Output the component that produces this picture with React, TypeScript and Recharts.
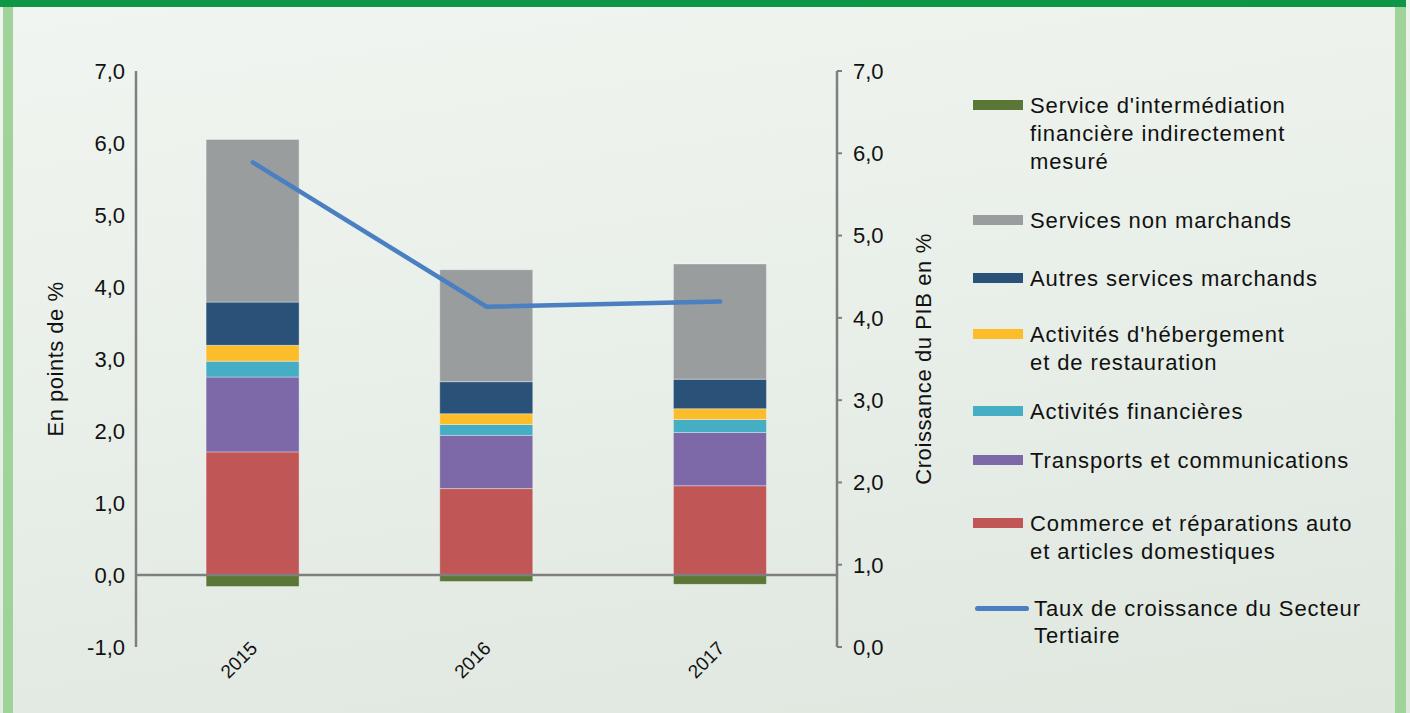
import { ComposedChart, Bar, Line, XAxis, YAxis, ReferenceLine } from 'recharts';

const years = ['2015', '2016', '2017'];
const sifim = [-0.16, -0.09, -0.13];
const nonMarchands = [2.26, 1.555, 1.6];
const autresMarchands = [0.6, 0.445, 0.41];
const hebergement = [0.22, 0.15, 0.15];
const financieres = [0.22, 0.15, 0.18];
const transports = [1.04, 0.74, 0.74];
const commerce = [1.71, 1.2, 1.24];
const tauxTertiaire = [5.89, 4.135, 4.2];

const leftTicks = [-1, 0, 1, 2, 3, 4, 5, 6, 7];
const rightTicks = [0, 1, 2, 3, 4, 5, 6, 7];

// bottom to top of the stack
const barSeries = [
  { key: 'sifim', name: "Service d'intermédiation\nfinancière indirectement\nmesuré", color: '#5b7736', values: sifim },
  { key: 'commerce', name: 'Commerce et réparations auto\net articles domestiques', color: '#c05756', values: commerce },
  { key: 'transports', name: 'Transports et communications', color: '#7d69a8', values: transports },
  { key: 'financieres', name: 'Activités financières', color: '#45adc4', values: financieres },
  { key: 'hebergement', name: "Activités d'hébergement\net de restauration", color: '#fdbc2a', values: hebergement },
  { key: 'autres', name: 'Autres services marchands', color: '#2a5178', values: autresMarchands },
  { key: 'nonMarchands', name: 'Services non marchands', color: '#9a9d9e', values: nonMarchands },
];
const lineName = 'Taux de croissance du Secteur\nTertiaire';
const lineColor = '#4a7fc1';

const data = years.map((year, i) => {
  const row: Record<string, string | number> = { year, taux: tauxTertiaire[i] };
  barSeries.forEach((s) => {
    row[s.key] = s.values[i];
  });
  return row;
});

// legend order as shown on the right, with the y centre of each first line
const legendOrder = ['sifim', 'nonMarchands', 'autres', 'hebergement', 'financieres', 'transports', 'commerce'];
const legendTops = [105, 220, 278, 334, 411, 460, 523, 608];

const fmt = (v: number) => v.toFixed(1).replace('.', ',');
const axisGray = '#7f7f7f';

function YearTick({ x, y, payload }: any) {
  const ax = x - 4;
  const ay = y - 7;
  return (
    <text
      x={ax}
      y={ay}
      dy="0.71em"
      textAnchor="end"
      fontSize={19}
      fill="#111"
      transform={`rotate(-45 ${ax} ${ay})`}
    >
      {payload.value}
    </text>
  );
}

export default function App() {
  const legendItems = legendOrder.map((k) => barSeries.find((s) => s.key === k)!);
  return (
    <div
      style={{
        position: 'absolute',
        left: 0,
        top: 0,
        width: 1410,
        height: 713,
        overflow: 'hidden',
        background: 'linear-gradient(172deg, #f1f5f1 0%, #e9efe9 45%, #dfe7df 100%)',
        fontFamily: '"Liberation Sans", Arial, sans-serif',
        color: '#111',
      }}
    >
      <div style={{ position: 'absolute', left: 0, top: 0, width: 1406, height: 7, background: '#0d9646' }} />
      <div style={{ position: 'absolute', left: 3, top: 7, width: 10, height: 706, background: '#9fd39a' }} />
      <div style={{ position: 'absolute', left: 1395, top: 7, width: 11, height: 706, background: '#9fd39a' }} />

      <div style={{ position: 'absolute', left: 0, top: 0 }}>
        <ComposedChart
          width={1410}
          height={713}
          data={data}
          margin={{ top: 71, right: 397, bottom: 0, left: 0 }}
          stackOffset="sign"
          barCategoryGap="30%"
        >
          <XAxis
            dataKey="year"
            axisLine={false}
            tickLine={false}
            tickSize={0}
            tickMargin={0}
            height={66}
            interval={0}
            tick={<YearTick />}
          />
          <YAxis
            yAxisId="left"
            width={136}
            domain={[-1, 7]}
            ticks={leftTicks}
            tickFormatter={fmt}
            axisLine={{ stroke: axisGray, strokeWidth: 2.5 }}
            tickLine={false}
            tickMargin={5}
            tick={{ fontSize: 22, fill: '#111' }}
            label={{
              value: 'En points de %',
              angle: -90,
              position: 'center',
              dx: -13,
              style: { fontSize: 22, fill: '#111', textAnchor: 'middle', letterSpacing: 0.5 },
            }}
          />
          <YAxis
            yAxisId="right"
            orientation="right"
            width={176}
            domain={[0, 7]}
            ticks={rightTicks}
            tickFormatter={fmt}
            axisLine={{ stroke: axisGray, strokeWidth: 2.5 }}
            tickLine={{ stroke: axisGray, strokeWidth: 2 }}
            tickSize={5}
            tickMargin={11}
            tick={{ fontSize: 22, fill: '#111' }}
            label={{
              value: 'Croissance du PIB en %',
              angle: -90,
              position: 'center',
              dx: -2,
              style: { fontSize: 22, fill: '#111', textAnchor: 'middle', letterSpacing: 0.6 },
            }}
          />
          {barSeries.map((s) => (
            <Bar
              key={s.key}
              yAxisId="left"
              dataKey={s.key}
              name={s.name}
              stackId="a"
              fill={s.color}
              stroke="rgba(255,255,255,0.35)"
              strokeWidth={1}
              isAnimationActive={false}
            />
          ))}
          <ReferenceLine yAxisId="left" y={0} stroke={axisGray} strokeWidth={2.5} />
          <Line
            yAxisId="right"
            type="linear"
            dataKey="taux"
            name={lineName}
            stroke={lineColor}
            strokeWidth={4.5}
            strokeLinecap="round"
            dot={false}
            activeDot={false}
            isAnimationActive={false}
          />
        </ComposedChart>
      </div>

      {legendItems.map((s, i) => (
        <div key={s.key}>
          <div
            style={{
              position: 'absolute',
              left: 973,
              top: legendTops[i] - 5,
              width: 50,
              height: 10,
              background: s.color,
            }}
          />
          <div
            style={{
              position: 'absolute',
              left: 1030,
              top: legendTops[i] - 13,
              fontSize: 22,
              lineHeight: '28px',
              letterSpacing: 0.9,
              whiteSpace: 'pre-line',
            }}
          >
            {s.name}
          </div>
        </div>
      ))}
      <div
        style={{
          position: 'absolute',
          left: 975,
          top: legendTops[7] - 2.5,
          width: 54,
          height: 5,
          borderRadius: 3,
          background: lineColor,
        }}
      />
      <div
        style={{
          position: 'absolute',
          left: 1034,
          top: legendTops[7] - 13,
          fontSize: 22,
          lineHeight: '27px',
          letterSpacing: 0.9,
          whiteSpace: 'pre-line',
        }}
      >
        {lineName}
      </div>
    </div>
  );
}
